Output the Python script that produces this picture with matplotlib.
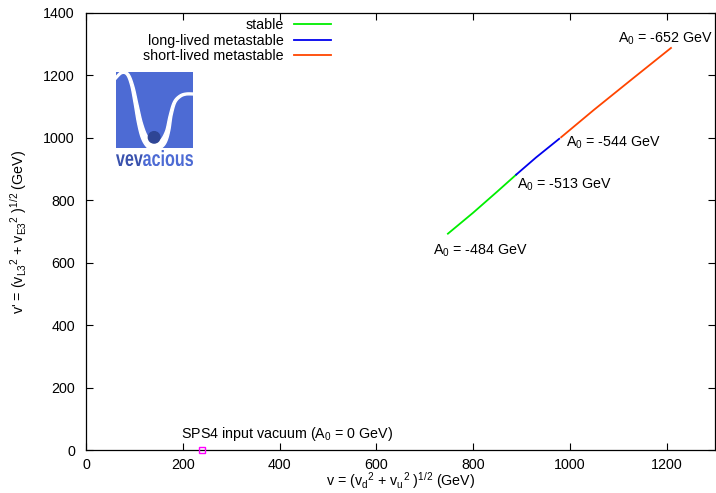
import matplotlib
matplotlib.use("Agg")
import matplotlib.pyplot as plt
import numpy as np
from matplotlib.patches import Rectangle, Circle, Polygon, PathPatch
from matplotlib.textpath import TextPath
from matplotlib.font_manager import FontProperties
from matplotlib.transforms import Affine2D

plt.rcParams['font.family'] = ['Liberation Sans', 'DejaVu Sans']
plt.rcParams['mathtext.default'] = 'regular'

# data (GeV)
stable_v = [748, 800, 850, 889]
stable_vp = [693, 760, 828, 882]
long_v = [889, 930, 978]
long_vp = [882, 937, 997]
short_v = [982, 1050, 1130, 1209]
short_vp = [1002, 1090, 1190, 1288]
input_v = [240]
input_vp = [0]

xticks = [0, 200, 400, 600, 800, 1000, 1200]
yticks = [0, 200, 400, 600, 800, 1000, 1200, 1400]

fig = plt.figure(figsize=(7.16, 4.93), dpi=100)
ax = fig.add_axes([86/716, 1-450/493, (715-86)/716, (450-13)/493])

ax.plot(stable_v, stable_vp, color='#00ee00', lw=1.3, label='stable')
ax.plot(long_v, long_vp, color='#0000ee', lw=1.3, label='long-lived metastable')
ax.plot(short_v, short_vp, color='#ff4500', lw=1.3, label='short-lived metastable')
ax.plot(input_v, input_vp, 's', mfc='none', mec='#ff00ff', ms=5, mew=1, clip_on=False, zorder=5)

ax.set_xlim(0, 1300)
ax.set_ylim(0, 1400)
ax.set_xticks(xticks)
ax.set_yticks(yticks)
fs = 10.3
ax.tick_params(direction='in', top=True, right=True, labelsize=fs, length=5, width=0.8)
ax.tick_params(axis='x', pad=5.5)
ax.tick_params(axis='y', pad=8)
for s in ax.spines.values():
    s.set_linewidth(0.9)

ax.set_xlabel(r'v = (v$_d$$^2$ + v$_u$$^2$ )$^{1/2}$ (GeV)', fontsize=fs, labelpad=-1)
ax.set_ylabel(r"v' = (v$_{L3}$$^2$ + v$_{E3}$$^2$ )$^{1/2}$ (GeV)", fontsize=fs, labelpad=10)

ax.text(718, 665, r'A$_0$ = -484 GeV', fontsize=fs, ha='left', va='top')
ax.text(890, 875, r'A$_0$ = -513 GeV', fontsize=fs, ha='left', va='top')
ax.text(993, 985, r'A$_0$ = -544 GeV', fontsize=fs, ha='left', va='center')
ax.text(1295, 1290, r'A$_0$ = -652 GeV', fontsize=fs, ha='right', va='bottom')
ax.text(196, 22, r'SPS4 input vacuum (A$_0$ = 0 GeV)', fontsize=fs, ha='left', va='bottom')

leg = ax.legend(loc='upper right', bbox_to_anchor=(331/716, 1-18/493), bbox_transform=fig.transFigure,
                frameon=False, fontsize=fs, markerfirst=False, handlelength=2.6, handletextpad=0.7,
                labelspacing=0.12, borderaxespad=0, borderpad=0)
leg._legend_box.align = 'right'

# logo
blue = '#4d6bd4'
lax = fig.add_axes([116/716, 1-148/493, 77/716, 76/493])
lax.set_xlim(0, 1); lax.set_ylim(0, 1); lax.axis('off')
lax.add_patch(Rectangle((0, 0), 1, 1, color=blue))

ctrl = np.array([(-0.02, 0.90), (0.07, 0.99), (0.15, 0.97), (0.21, 0.82), (0.26, 0.58),
                 (0.31, 0.33), (0.37, 0.14), (0.45, 0.04), (0.53, 0.03), (0.61, 0.08),
                 (0.67, 0.22), (0.71, 0.43), (0.76, 0.60), (0.83, 0.68), (0.91, 0.71), (1.02, 0.71)])
wid = np.array([0.02, 0.025, 0.03, 0.035, 0.045, 0.06, 0.08, 0.11, 0.11, 0.08,
                0.05, 0.035, 0.03, 0.028, 0.025, 0.025])
pts = []; ws = []
P = np.vstack([ctrl[0], ctrl, ctrl[-1]])
W = np.concatenate([[wid[0]], wid, [wid[-1]]])
for i in range(1, len(P) - 2):
    for tt in np.linspace(0, 1, 20, endpoint=False):
        t2, t3 = tt * tt, tt * tt * tt
        p = 0.5 * ((2 * P[i]) + (-P[i-1] + P[i+1]) * tt +
                   (2*P[i-1] - 5*P[i] + 4*P[i+1] - P[i+2]) * t2 +
                   (-P[i-1] + 3*P[i] - 3*P[i+1] + P[i+2]) * t3)
        pts.append(p); ws.append(W[i] * (1 - tt) + W[i+1] * tt)
pts.append(P[-2]); ws.append(W[-2])
pts = np.array(pts); ws = np.array(ws)
d = np.gradient(pts, axis=0)
n = np.stack([-d[:, 1], d[:, 0]], axis=1)
n /= np.linalg.norm(n, axis=1)[:, None]
upper = pts + n * ws[:, None] / 2
lower = pts - n * ws[:, None] / 2
poly = np.vstack([upper, lower[::-1]])
lax.add_patch(Polygon(poly, closed=True, color='white', clip_on=True))
lax.add_patch(Circle((0.495, 0.14), 0.075, color='#2e4595'))

# logo word, squeezed to fit the logo width
tax = fig.add_axes([116/716, 1-166/493, 77/716, 16/493])
tax.axis('off')
fp = FontProperties(family='Liberation Sans', weight='bold')
p1 = TextPath((0, 0), 'vev', size=1, prop=fp)
p2 = TextPath((0, 0), 'acious', size=1, prop=fp)
e1 = p1.get_extents(); e2 = p2.get_extents()
w1 = e1.x1 - e1.x0
total = w1 + 0.02 + (e2.x1 - e2.x0)
top = max(e1.y1, e2.y1)
tax.set_xlim(0, 1); tax.set_ylim(0, 1)
sx = 1.0 / total
sy = 1.0 / top
t1 = Affine2D().translate(-e1.x0, 0).scale(sx, sy)
t2 = Affine2D().translate(-e2.x0 + w1 + 0.02, 0).scale(sx, sy)
tax.add_patch(PathPatch(t1.transform_path(p1), color='#3a52ad', lw=0))
tax.add_patch(PathPatch(t2.transform_path(p2), color='#4d6bd4', lw=0))

fig.savefig('out.png', dpi=100)
